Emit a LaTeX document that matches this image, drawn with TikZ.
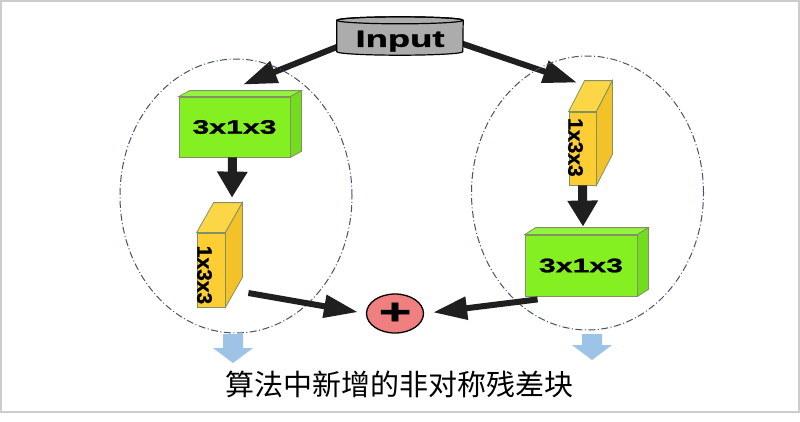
\documentclass[tikz,border=0pt]{standalone}
\usepackage{fontspec}
\usepackage{xcolor}
\usepackage{tikz}
\usetikzlibrary{calc,arrows.meta,shapes.geometric,backgrounds}
\setsansfont[BoldFeatures={FakeBold=1.3}]{Liberation Sans}
\newfontfamily\cjkfont{Noto Sans CJK SC}
\newfontfamily\widefont[FakeStretch=1.55, BoldFeatures={FakeBold=1.3}]{Liberation Sans}
\definecolor{limegreen}{RGB}{132,240,34}
\definecolor{limeside}{RGB}{116,220,30}
\definecolor{limetop}{RGB}{146,244,62}
\definecolor{gold}{RGB}{252,206,52}
\definecolor{goldside}{RGB}{242,194,40}
\definecolor{goldtop}{RGB}{253,214,72}
\definecolor{edgegray}{RGB}{130,145,100}
\definecolor{salmon}{RGB}{240,128,128}
\definecolor{paleblue}{RGB}{157,195,230}
\definecolor{groupline}{RGB}{70,82,110}

\begin{document}
\begin{tikzpicture}[
  x=1pt, y=-1pt,
  greenbox/.style={rectangle, draw=edgegray, fill=limegreen, line width=0.8pt, minimum width=111pt, minimum height=60pt, inner sep=0pt, font=\widefont\bfseries\fontsize{19.5}{20}\selectfont},
  slab/.style={rectangle, draw=edgegray, fill=gold, line width=0.8pt, minimum width=28pt, minimum height=74pt, inner sep=0pt},
  slabtext/.style={rotate=-90, inner sep=0pt, font=\sffamily\bfseries\fontsize{21}{22}\selectfont},
  group/.style={ellipse, draw=groupline, line width=1pt, dash pattern=on 7pt off 2.5pt on 1pt off 2.5pt, minimum width=232pt, minimum height=274pt, inner sep=0pt},
  flow/.style={-{Triangle[length=34pt,width=22pt]}, line width=6pt, draw=black!88},
  downflow/.style={-{Triangle[length=26pt,width=29pt]}, line width=9pt, draw=black!88},
  hint/.style={fill=paleblue}
]
\useasboundingbox (0,0) rectangle (800,421);
\begin{scope}[on background layer]
\fill[white] (0,0) rectangle (800,421);
\end{scope}
\draw[gray!40, line width=1.5pt] (1,1) rectangle (799,412);

\node[group] (leftgrp) at (236,196) {};
\node[group] (rightgrp) at (587.5,193) {};

\node[inner sep=0pt, minimum width=126pt, minimum height=33pt, text height=16.7pt, text depth=0pt, font=\widefont\bfseries\fontsize{23.5}{24}\selectfont] (input) at (400,38.5) {Input};

\node[greenbox] (gA) at (234.5,127) {3x1x3};
\node[slab] (yA) at (211,270) {};
\node[slab, minimum width=27pt, minimum height=73pt] (yB) at (582.5,148.5) {};
\node[greenbox, minimum width=112pt, minimum height=61pt] (gB) at (581,265.5) {3x1x3};

\foreach \n/\dx/\dy/\ftop/\fside in {gA/11/-6/limetop/limeside, gB/11/-7/limetop/limeside, yA/17/-30/goldtop/goldside, yB/16/-31/goldtop/goldside} {
  \filldraw[fill=\ftop, draw=edgegray, line width=0.8pt] (\n.north west) -- ++(\dx,\dy) -- ($(\n.north east)+(\dx,\dy)$) -- (\n.north east) -- cycle;
  \filldraw[fill=\fside, draw=edgegray, line width=0.8pt] (\n.north east) -- ++(\dx,\dy) -- ($(\n.south east)+(\dx,\dy)$) -- (\n.south east) -- cycle;
}
\node[slabtext] (yAtxt) at ($(yA)+(-6.5,5)$) {1x3x3};
\node[slabtext] (yBtxt) at ($(yB)+(-7,-1)$) {1x3x3};

\node[ellipse, draw=black, fill=salmon, line width=1.3pt, minimum width=57pt, minimum height=39pt, inner sep=0pt, font=\widefont\bfseries\fontsize{36}{36}\selectfont] (plus) at (395,313.5) {+};

\begin{scope}[on background layer]
\draw[flow] ($(input.west)+(8,5.3)$) -- ($(gA.north)+(8.5,-12)$);
\draw[flow] ($(input.east)+(-8,2.8)$) -- ($(yB.north)+(-5.5,-29)$);
\filldraw[fill=gray!65, draw=black, line width=1.2pt] ($(input.north west)+(0,-1.5)$) -- ($(input.south west)+(0,-3.5)$) arc[start angle=180, end angle=0, x radius=63, y radius=3.5] -- ($(input.north east)+(0,-1.5)$) arc[start angle=0, end angle=-180, x radius=63, y radius=3.5] -- cycle;
\draw[black, line width=1.2pt] ($(input.north)+(0,-1.5)$) ellipse[x radius=63, y radius=3.5];
\end{scope}

\draw[downflow] ($(gA.south)+(-2,0)$) -- ($(yA.north)+(21,-35)$);
\draw[downflow] (yB.south) -- ($(gB.north)+(2,-8)$);
\draw[flow, shorten >=8pt] ($(yA.east)+(23,23)$) -- (plus.west);
\draw[flow, shorten >=9pt] ($(gB.south west)+(13,3)$) -- (plus.east);

\foreach \x/\tip in {233/363, 592/360}
  \fill[hint] (\x-10,334) -- (\x+10,334) -- (\x+10,\tip-15) -- (\x+20,\tip-15) -- (\x,\tip) -- (\x-20,\tip-15) -- (\x-10,\tip-15) -- cycle;

\node[font=\cjkfont\fontsize{29}{30}\selectfont, inner sep=0pt] (caption) at (399,384) {算法中新增的非对称残差块};
\end{tikzpicture}
\end{document}
